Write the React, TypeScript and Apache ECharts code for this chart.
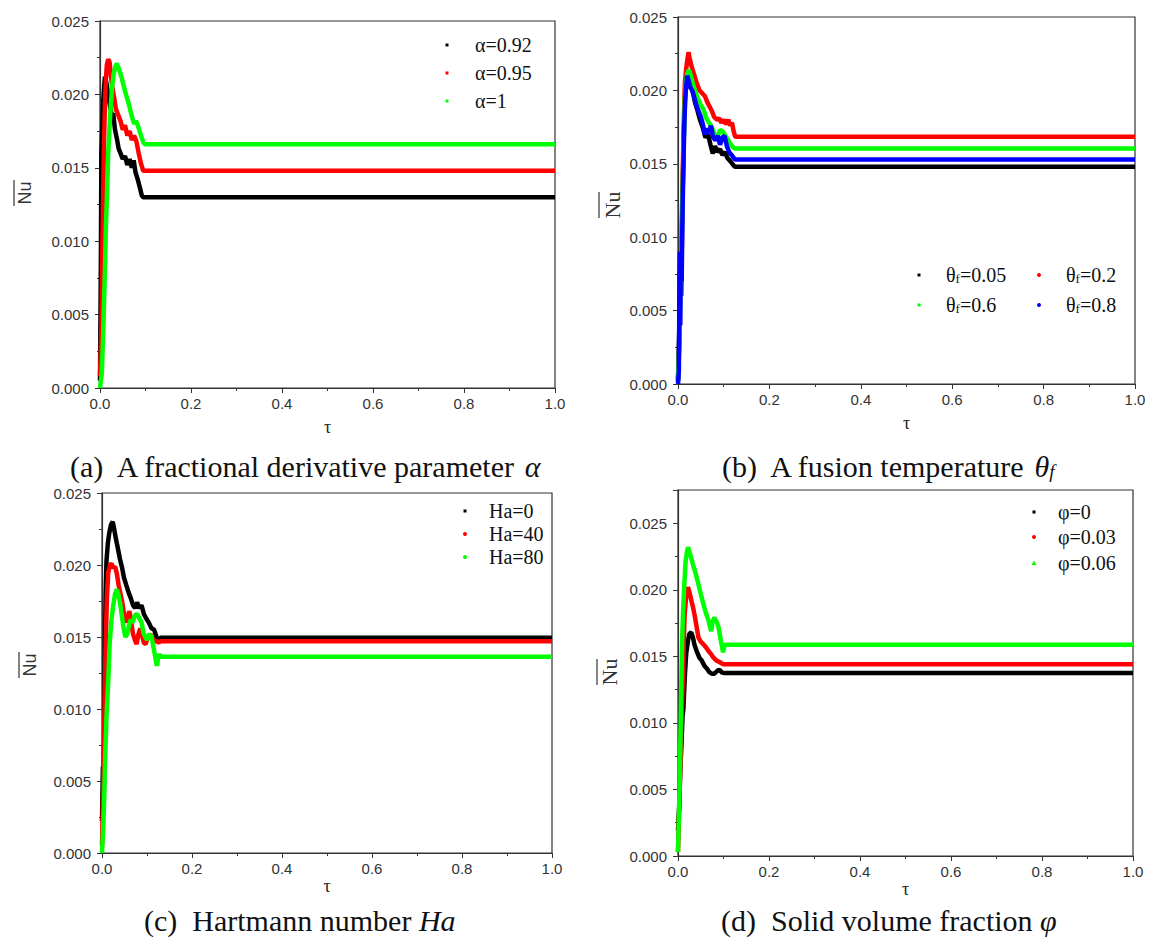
import React, { useEffect, useRef } from "react";
import * as echarts from "echarts";

// ---------- data (tau, Nu) ----------
const alpha092: [number, number][] = [[0,0.0005],[0.002,0.009],[0.003,0.016],[0.005,0.0175],[0.007,0.0195],[0.009,0.0205],[0.011,0.0212],[0.014,0.0208],[0.018,0.0200],[0.022,0.0192],[0.026,0.0186],[0.029,0.0187],[0.033,0.0176],[0.037,0.0170],[0.041,0.0163],[0.045,0.0160],[0.050,0.0156],[0.055,0.0158],[0.060,0.0152],[0.065,0.0156],[0.070,0.0150],[0.074,0.0155],[0.078,0.0147],[0.083,0.0142],[0.088,0.0136],[0.092,0.0131],[0.095,0.0130],[1.0,0.0130]];
const alpha095: [number, number][] = [[0,0.0008],[0.003,0.004],[0.005,0.009],[0.007,0.013],[0.009,0.017],[0.011,0.0195],[0.013,0.021],[0.015,0.022],[0.018,0.0224],[0.021,0.0222],[0.024,0.0213],[0.027,0.0205],[0.031,0.0198],[0.035,0.0190],[0.040,0.0186],[0.045,0.0182],[0.050,0.0176],[0.055,0.0179],[0.060,0.0172],[0.065,0.0175],[0.070,0.0169],[0.075,0.0172],[0.080,0.0168],[0.085,0.0160],[0.090,0.0153],[0.095,0.0148],[1.0,0.0148]];
const alpha1: [number, number][] = [[0,0],[0.004,0.001],[0.007,0.0037],[0.009,0.006],[0.011,0.0082],[0.013,0.011],[0.015,0.0128],[0.018,0.016],[0.022,0.0184],[0.026,0.0203],[0.030,0.0214],[0.034,0.0219],[0.037,0.0221],[0.042,0.0217],[0.047,0.0212],[0.052,0.0206],[0.057,0.0200],[0.062,0.0195],[0.066,0.0190],[0.071,0.0184],[0.075,0.0180],[0.079,0.0182],[0.084,0.0178],[0.088,0.0174],[0.092,0.0170],[0.096,0.0167],[0.099,0.0166],[1.0,0.0166]];

const theta005: [number, number][] = [[0,0.0003],[0.003,0.004],[0.005,0.009],[0.007,0.006],[0.009,0.011],[0.012,0.016],[0.015,0.0195],[0.019,0.0208],[0.023,0.0212],[0.027,0.0206],[0.032,0.0200],[0.037,0.0192],[0.042,0.0187],[0.048,0.0180],[0.054,0.0175],[0.060,0.0168],[0.066,0.0170],[0.071,0.0163],[0.076,0.0157],[0.081,0.0162],[0.086,0.0158],[0.092,0.0160],[0.097,0.0156],[0.103,0.0158],[0.108,0.0154],[0.114,0.0152],[0.119,0.0150],[0.124,0.0148],[1.0,0.0148]];
const theta02: [number, number][] = [[0,0.0002],[0.003,0.003],[0.005,0.007],[0.007,0.0085],[0.009,0.012],[0.012,0.017],[0.015,0.0205],[0.018,0.0215],[0.021,0.0222],[0.023,0.0226],[0.026,0.0221],[0.030,0.0216],[0.035,0.0211],[0.041,0.0205],[0.047,0.0200],[0.053,0.0198],[0.059,0.0196],[0.064,0.0192],[0.069,0.0189],[0.074,0.0186],[0.079,0.0182],[0.085,0.0180],[0.090,0.0181],[0.095,0.0178],[0.100,0.0180],[0.105,0.0177],[0.110,0.0180],[0.114,0.0176],[0.118,0.0178],[0.122,0.0172],[0.125,0.01685],[1.0,0.01685]];
const theta06: [number, number][] = [[0,0.0002],[0.003,0.003],[0.005,0.0065],[0.007,0.008],[0.009,0.0115],[0.012,0.016],[0.015,0.0195],[0.018,0.0208],[0.021,0.0212],[0.024,0.0214],[0.028,0.0210],[0.033,0.0204],[0.038,0.0199],[0.044,0.0194],[0.050,0.0190],[0.056,0.0187],[0.062,0.0181],[0.068,0.0178],[0.074,0.0175],[0.080,0.0170],[0.086,0.0168],[0.092,0.0173],[0.098,0.0172],[0.104,0.0169],[0.110,0.0166],[0.116,0.0163],[0.121,0.0161],[0.125,0.01605],[1.0,0.01605]];
const theta08: [number, number][] = [[0,0],[0.002,0.001],[0.003,0.006],[0.004,0.009],[0.005,0.004],[0.006,0.008],[0.008,0.007],[0.010,0.012],[0.012,0.015],[0.014,0.018],[0.017,0.0200],[0.020,0.0210],[0.023,0.0207],[0.027,0.0202],[0.031,0.0200],[0.035,0.0196],[0.040,0.0190],[0.045,0.0186],[0.050,0.0182],[0.055,0.0176],[0.059,0.0170],[0.063,0.0174],[0.068,0.0171],[0.072,0.0176],[0.077,0.0168],[0.082,0.0166],[0.087,0.0169],[0.092,0.0163],[0.097,0.0168],[0.102,0.0169],[0.107,0.0162],[0.112,0.0158],[0.117,0.0156],[0.122,0.0154],[0.125,0.0153],[1.0,0.0153]];

const ha0: [number, number][] = [[0,0.0022],[0.002,0.006],[0.004,0.0045],[0.006,0.012],[0.008,0.018],[0.010,0.0203],[0.013,0.0215],[0.016,0.0222],[0.020,0.0228],[0.024,0.0230],[0.027,0.0225],[0.031,0.0218],[0.035,0.0212],[0.040,0.0204],[0.044,0.0199],[0.049,0.0191],[0.054,0.0186],[0.059,0.0181],[0.064,0.0177],[0.069,0.0172],[0.074,0.0170],[0.078,0.0174],[0.083,0.0170],[0.088,0.0172],[0.093,0.0166],[0.098,0.0163],[0.104,0.0160],[0.110,0.0156],[0.116,0.0155],[0.121,0.0150],[0.126,0.0146],[0.129,0.01495],[1.0,0.01495]];
const ha40: [number, number][] = [[0,0.0005],[0.003,0.005],[0.005,0.009],[0.007,0.0125],[0.009,0.0155],[0.011,0.0178],[0.014,0.0195],[0.018,0.0200],[0.021,0.0201],[0.025,0.0198],[0.029,0.0199],[0.033,0.0194],[0.037,0.0186],[0.041,0.0180],[0.045,0.0174],[0.049,0.0166],[0.053,0.0160],[0.057,0.0164],[0.061,0.0168],[0.065,0.0160],[0.069,0.0152],[0.073,0.0148],[0.077,0.0145],[0.081,0.0152],[0.085,0.0156],[0.089,0.0151],[0.093,0.0146],[0.097,0.0145],[0.102,0.0150],[0.107,0.0152],[0.112,0.0149],[0.117,0.0147],[0.122,0.0147],[0.126,0.0146],[0.129,0.0147],[1.0,0.0147]];
const ha80: [number, number][] = [[0,0],[0.003,0.002],[0.005,0.0039],[0.007,0.0065],[0.010,0.0095],[0.014,0.0120],[0.017,0.0145],[0.021,0.0162],[0.025,0.0172],[0.029,0.0180],[0.033,0.0183],[0.036,0.0180],[0.040,0.0174],[0.044,0.0165],[0.048,0.0156],[0.052,0.0150],[0.056,0.0152],[0.060,0.0158],[0.064,0.0162],[0.068,0.0160],[0.073,0.0165],[0.078,0.0166],[0.083,0.0163],[0.088,0.0160],[0.092,0.0153],[0.096,0.0150],[0.100,0.0148],[0.105,0.0152],[0.110,0.0150],[0.115,0.0142],[0.120,0.0133],[0.122,0.0130],[0.125,0.0136],[0.128,0.0138],[0.131,0.01363],[1.0,0.01363]];

const phi0: [number, number][] = [[0,0.0019],[0.003,0.004],[0.005,0.0065],[0.0074,0.0082],[0.010,0.0105],[0.012,0.0111],[0.015,0.0135],[0.018,0.0152],[0.022,0.0162],[0.025,0.0167],[0.029,0.0168],[0.033,0.0164],[0.036,0.0159],[0.041,0.0154],[0.047,0.0149],[0.052,0.0147],[0.058,0.0143],[0.063,0.0141],[0.069,0.0138],[0.075,0.0137],[0.080,0.0137],[0.086,0.0139],[0.091,0.0140],[0.096,0.0138],[0.100,0.01375],[1.0,0.01375]];
const phi003: [number, number][] = [[0,0.0003],[0.003,0.004],[0.006,0.008],[0.009,0.0115],[0.011,0.0137],[0.013,0.0165],[0.0147,0.0182],[0.018,0.0195],[0.022,0.0202],[0.026,0.0197],[0.030,0.0191],[0.033,0.0187],[0.037,0.0180],[0.041,0.0172],[0.045,0.0164],[0.050,0.0161],[0.056,0.0159],[0.061,0.0157],[0.067,0.0154],[0.072,0.0152],[0.078,0.0149],[0.084,0.0147],[0.090,0.0146],[0.095,0.0145],[0.100,0.0144],[1.0,0.0144]];
const phi006: [number, number][] = [[0,0.0003],[0.002,0.003],[0.0037,0.0057],[0.0055,0.009],[0.0074,0.0132],[0.009,0.016],[0.011,0.0182],[0.014,0.0205],[0.0169,0.0222],[0.020,0.0229],[0.022,0.0232],[0.025,0.0229],[0.029,0.0224],[0.033,0.0219],[0.039,0.0212],[0.045,0.0204],[0.050,0.0197],[0.056,0.0189],[0.061,0.0183],[0.067,0.0177],[0.0729,0.0169],[0.076,0.0176],[0.080,0.0179],[0.085,0.0176],[0.089,0.0172],[0.093,0.0164],[0.097,0.0157],[0.099,0.0153],[0.102,0.0158],[0.104,0.01587],[1.0,0.01587]];

const namesA = ["α=0.92", "α=0.95", "α=1"];
const namesB = ["θ{s|f}=0.05", "θ{s|f}=0.2", "θ{s|f}=0.6", "θ{s|f}=0.8"];
const namesC = ["Ha=0", "Ha=40", "Ha=80"];
const namesD = ["φ=0", "φ=0.03", "φ=0.06"];
const captions = [
  "(a)  A fractional derivative parameter {i|α}",
  "(b)  A fusion temperature {i|θ}{si|f}",
  "(c)  Hartmann number {i|Ha}",
  "(d)  Solid volume fraction {i|φ}",
];
const xTicks = [0, 0.2, 0.4, 0.6, 0.8, 1.0];
const yMax = [0.025, 0.025, 0.025, 0.0275];

const BLACK = "#000000", RED = "#ff0000", GREEN = "#00ff00", BLUE = "#0000ff";

const panels = [
  { grid: { left: 100, top: 21, width: 455, height: 367 }, series: [alpha092, alpha095, alpha1], names: namesA, colors: [BLACK, RED, GREEN] },
  { grid: { left: 678, top: 17, width: 457, height: 367 }, series: [theta005, theta02, theta06, theta08], names: namesB, colors: [BLACK, RED, GREEN, BLUE] },
  { grid: { left: 102, top: 493, width: 450, height: 360 }, series: [ha0, ha40, ha80], names: namesC, colors: [BLACK, RED, GREEN] },
  { grid: { left: 678, top: 490, width: 455, height: 366 }, series: [phi0, phi003, phi006], names: namesD, colors: [BLACK, RED, GREEN] },
];

const SERIF = '"Liberation Serif", "Times New Roman", serif';
const SANS = '"Liberation Sans", Arial, sans-serif';
const f = (size: number, fam: string, style = "normal") => `${style} normal ${size}px ${fam}`;

function marker(shape: string, cx: number, cy: number, color: string) {
  if (shape === "circle") return { type: "circle", shape: { cx, cy, r: 2 }, style: { fill: color } };
  if (shape === "triangle") return { type: "polygon", shape: { points: [[cx, cy - 2.5], [cx - 2.5, cy + 2], [cx + 2.5, cy + 2]] }, style: { fill: color } };
  return { type: "rect", shape: { x: cx - 1.5, y: cy - 1.5, width: 3, height: 3 }, style: { fill: color } };
}

const legendRich = { s: { font: f(13, SERIF), fill: "#111", verticalAlign: "bottom" } };

function legendText(text: string, x: number, y: number) {
  return {
    type: "text", x, y,
    style: { text, font: f(20, SERIF), fill: "#111", verticalAlign: "middle", align: "left", rich: legendRich },
  };
}

export default function App() {
  const ref = useRef<HTMLDivElement>(null);
  useEffect(() => {
    if (!ref.current) return;
    const chart = echarts.init(ref.current, null, { renderer: "svg" });

    const grids = panels.map((p) => ({ ...p.grid, show: true, borderColor: "#333", borderWidth: 1.2, backgroundColor: "transparent" }));
    const xGap = [30, 30, 23, 21];
    const xAxes = panels.map((p, i) => ({
      type: "value", gridIndex: i, min: 0, max: 1, interval: 0.2,
      name: "τ", nameLocation: "middle", nameGap: xGap[i],
      nameTextStyle: { fontFamily: SERIF, fontSize: 18, color: "#222" },
      axisLine: { show: true, lineStyle: { color: "#333", width: 1.2 } },
      axisTick: { show: true, inside: false, length: 5, lineStyle: { color: "#333" } },
      minorTick: { show: true, splitNumber: 2, length: 3, lineStyle: { color: "#333" } },
      splitLine: { show: false },
      axisLabel: { fontFamily: SANS, fontSize: 15, color: "#333", margin: 8, formatter: (v: number) => (xTicks.some((t) => Math.abs(t - v) < 1e-9) ? v.toFixed(1) : "") },
    }));
    const yAxes = panels.map((p, i) => ({
      type: "value", gridIndex: i, min: 0, max: yMax[i], interval: 0.005,
      axisLine: { show: true, lineStyle: { color: "#333", width: 1.2 } },
      axisTick: { show: true, inside: false, length: 5, lineStyle: { color: "#333" } },
      minorTick: { show: true, splitNumber: 2, length: 3, lineStyle: { color: "#333" } },
      splitLine: { show: false },
      axisLabel: { fontFamily: SANS, fontSize: 15, color: "#333", margin: 11, formatter: (v: number) => (v > 0.02501 ? "" : v.toFixed(3)) },
    }));
    const series: any[] = [];
    panels.forEach((p, i) => {
      p.series.forEach((d, j) => {
        series.push({
          type: "line", xAxisIndex: i, yAxisIndex: i, data: d, name: p.names[j],
          showSymbol: false, silent: true, lineStyle: { color: p.colors[j], width: 4.5 }, itemStyle: { color: p.colors[j] },
        });
      });
    });

    const graphic: any[] = [];
    const legA = [[447, 45], [447, 73], [447, 101]];
    panels[0].names.forEach((n, j) => { graphic.push(marker("rect", legA[j][0], legA[j][1], panels[0].colors[j])); graphic.push(legendText(n, 475, legA[j][1])); });
    const legB = [[919, 275], [1039, 275], [919, 305], [1039, 305]];
    panels[1].names.forEach((n, j) => { graphic.push(marker(j % 2 ? "circle" : "rect", legB[j][0], legB[j][1], panels[1].colors[j])); graphic.push(legendText(n, legB[j][0] + 27, legB[j][1])); });
    const legC = [[465, 511], [465, 534], [465, 557]];
    panels[2].names.forEach((n, j) => { graphic.push(marker(j === 0 ? "rect" : "circle", legC[j][0], legC[j][1], panels[2].colors[j])); graphic.push(legendText(n, 489, legC[j][1])); });
    const legD = [[1034, 512], [1034, 537], [1034, 563]];
    const shpD = ["rect", "circle", "triangle"];
    panels[3].names.forEach((n, j) => { graphic.push(marker(shpD[j], legD[j][0], legD[j][1], panels[3].colors[j])); graphic.push(legendText(n, 1058, legD[j][1])); });

    const nuPos = [
      { x: 25, y: 193, ol: 14, font: SANS, size: 18 },
      { x: 612, y: 205, ol: 599, font: SERIF, size: 22 },
      { x: 30, y: 665, ol: 19, font: SANS, size: 18 },
      { x: 609, y: 672, ol: 597, font: SERIF, size: 22 },
    ];
    nuPos.forEach((p) => {
      graphic.push({ type: "text", x: p.x, y: p.y, rotation: Math.PI / 2, style: { text: "Nu", font: f(p.size, p.font), fill: "#333", align: "center", verticalAlign: "middle" } });
      graphic.push({ type: "line", shape: { x1: p.ol, y1: p.y - 13, x2: p.ol, y2: p.y + 13 }, style: { stroke: "#333", lineWidth: 1.2 } });
    });

    const capPos = [[70, 466], [722, 466], [144, 920], [721, 920]];
    captions.forEach((c, i) => {
      graphic.push({
        type: "text", x: capPos[i][0], y: capPos[i][1],
        style: {
          text: c, font: f(30, SERIF), fill: "#111", verticalAlign: "middle", align: "left",
          rich: {
            i: { font: f(30, SERIF, "italic"), fill: "#111" },
            si: { font: f(19, SERIF, "italic"), fill: "#111", verticalAlign: "bottom" },
          },
        },
      });
    });

    chart.setOption({
      animation: false,
      backgroundColor: "#ffffff",
      grid: grids,
      xAxis: xAxes,
      yAxis: yAxes,
      series,
      graphic,
    });
    return () => chart.dispose();
  }, []);
  return <div ref={ref} style={{ position: "absolute", left: 0, top: 0, width: 1160, height: 938 }} />;
}
